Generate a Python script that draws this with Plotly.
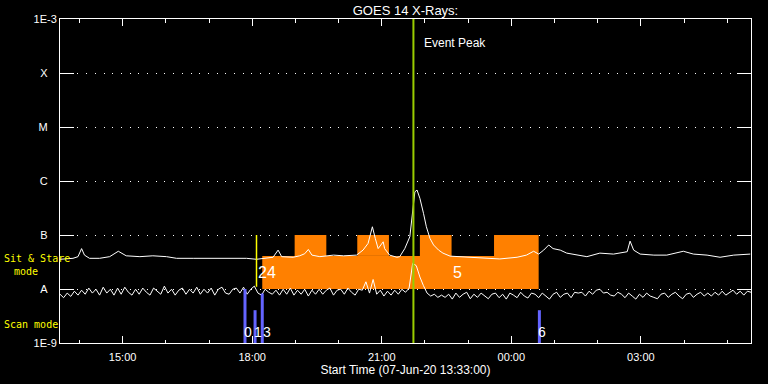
import math
import pandas as pd
import plotly.graph_objects as go

START = pd.Timestamp("2020-06-07 13:33:00")
END = pd.Timestamp("2020-06-08 05:33:00")

# ---- GOES long channel (1-8 A), minutes after start, flux in units of 1e-8 W/m^2
LONG_MIN = [0, 9, 18, 25, 30, 34, 41, 55, 69, 81, 92, 111, 129, 148, 162, 185, 208, 231, 259, 273,
            287, 296, 303, 308, 324, 333, 340, 345, 350, 361, 380, 394, 412, 421, 428, 434, 438, 442, 449, 451,
            458, 468, 472, 479, 486, 490, 493, 496, 500, 505, 509, 514, 519, 526, 532, 542, 565, 588, 611, 635,
            648, 658, 665, 672, 679, 685, 695, 704, 723, 732, 750, 769, 788, 792, 797, 806, 825, 843, 866, 880,
            899, 917, 936, 959]
LONG_E8 = [3.55, 3.68, 3.70, 3.97, 5.6, 4.24, 3.70, 3.70, 3.97, 5.0, 4.12, 3.97, 4.12, 3.97, 3.70, 3.70, 3.70, 3.70, 3.70, 3.55,
           3.70, 3.87, 5.25, 3.97, 3.87, 4.12, 4.5, 5.4, 4.24, 3.97, 4.24, 4.12, 4.24, 5.25, 6.98, 14.2, 8.65, 5.6, 7.48, 5.6,
           4.24, 3.87, 3.97, 5.6, 9.27, 29.0, 63.0, 68.0, 47.8, 25.2, 14.2, 8.65, 6.53, 5.25, 4.62, 4.06, 3.87, 3.70, 3.6, 3.87,
           4.24, 5.0, 4.43, 5.25, 6.53, 5.6, 5.25, 4.62, 4.24, 3.97, 4.62, 4.43, 4.9, 7.7, 5.25, 4.43, 4.24, 4.24, 5.0, 4.43,
           4.24, 3.87, 4.24, 4.43]

# ---- GOES short channel (0.5-4 A), every 5 minutes, flux in units of 1e-9 W/m^2
SHORT_MIN = list(range(0, 961, 5))
SHORT_E9 = [8.0, 6.9, 8.4, 7.3, 9.1, 7.7, 9.5, 8.0, 10.4, 8.4, 9.9, 7.7,
            10.8, 8.4, 9.9, 7.7, 10.4, 8.0, 10.8, 8.7, 7.7, 9.9, 8.0, 10.4,
            8.7, 7.7, 10.4, 9.1, 8.0, 11.3, 8.4, 9.9, 7.7, 9.5, 10.4, 8.0,
            9.9, 8.4, 10.8, 8.0, 9.9, 8.4, 10.4, 7.7, 9.9, 10.8, 8.4, 8.0,
            9.9, 10.4, 8.4, 10.8, 8.0, 9.9, 11.3, 8.4, 7.7, 9.9, 8.7, 8.0,
            9.5, 7.7, 9.9, 8.0, 10.4, 7.7, 9.5, 8.0, 9.9, 7.4, 9.5, 8.0,
            9.9, 8.0, 9.5, 10.4, 7.7, 9.5, 9.9, 8.0, 10.4, 8.7, 7.7, 9.9,
            9.5, 13.6, 8.4, 15.0, 8.0, 9.5, 7.4, 9.1, 7.7, 9.5, 8.0, 9.9,
            8.7, 10.4, 30.0, 27.0, 16.7, 11.5, 8.4, 7.4, 8.0, 7.0, 7.7, 7.0,
            8.0, 6.5, 8.4, 7.0, 8.0, 8.7, 6.6, 8.0, 7.0, 8.4, 7.4, 6.6,
            8.0, 8.4, 6.9, 8.0, 6.5, 8.4, 7.7, 6.9, 8.7, 7.4, 6.8, 8.4,
            8.0, 6.9, 8.4, 7.4, 6.5, 8.0, 8.7, 7.0, 8.0, 8.4, 6.9, 8.7,
            8.4, 8.7, 7.4, 9.1, 8.0, 9.5, 9.9, 8.4, 8.7, 7.7, 7.4, 8.7,
            8.0, 6.9, 8.4, 7.4, 6.5, 8.0, 7.0, 8.4, 7.4, 7.0, 6.6, 8.0,
            8.4, 7.0, 8.0, 8.7, 7.4, 6.6, 8.0, 8.4, 7.0, 8.0, 8.7, 7.4,
            8.4, 7.4, 8.7, 7.7, 9.1, 7.7, 8.7, 9.5, 8.0, 9.1, 7.7, 9.1,
            8.7]

# ---- Sit & Stare coverage (minutes after start)
SS_BASE = [281, 665]            # lower band
SS_BASE_FLUX = [1e-8, 4.1e-8]
SS_BLOCK_START = [326, 413, 500, 603]
SS_BLOCK_END = [370, 457, 544, 665]
SS_BLOCK_FLUX = [4.1e-8, 1e-7]
SS_LINE_MIN = 273
SS_LINE_FLUX = [1.1e-8, 1e-7]
SS_LABELS = ["24", "5"]
SS_LABEL_MIN = [273, 544]

# ---- Scan mode observations
SCAN_MIN = [257, 271, 281, 666]
SCAN_TOP = [1.0e-8, 4.05e-9, 8.26e-9, 4.05e-9]
SCAN_LABELS = ["0", "1", "3", "6"]
SCAN_FLOOR = 1e-9

EVENT_PEAK_MIN = 491

# y-axis tick values and labels
Y_TICKS = [1e-9, 1e-8, 1e-7, 1e-6, 1e-5, 1e-4, 1e-3]
Y_TEXT = ["1E-9", "A", "B", "C", "M", "X", "1E-3"]

NB = "\u00a0"


def t(m):
    return START + pd.Timedelta(minutes=m)


ORANGE = "#ff8000"
SCAN_C = "#6464ff"
FONT = "Liberation Sans, Arial, sans-serif"

fig = go.Figure()

# orange sit & stare areas
fig.add_trace(go.Scatter(
    x=[t(SS_BASE[0]), t(SS_BASE[1]), t(SS_BASE[1]), t(SS_BASE[0]), t(SS_BASE[0])],
    y=[SS_BASE_FLUX[0], SS_BASE_FLUX[0], SS_BASE_FLUX[1], SS_BASE_FLUX[1], SS_BASE_FLUX[0]],
    fill="toself", fillcolor=ORANGE, mode="lines", line=dict(width=0, color=ORANGE),
    hoverinfo="skip"))
for s, e in zip(SS_BLOCK_START, SS_BLOCK_END):
    fig.add_trace(go.Scatter(
        x=[t(s), t(e), t(e), t(s), t(s)],
        y=[SS_BLOCK_FLUX[0], SS_BLOCK_FLUX[0], SS_BLOCK_FLUX[1], SS_BLOCK_FLUX[1], SS_BLOCK_FLUX[0]],
        fill="toself", fillcolor=ORANGE, mode="lines", line=dict(width=0, color=ORANGE),
        hoverinfo="skip"))

# GOES curves
fig.add_trace(go.Scatter(x=[t(m) for m in LONG_MIN], y=[v * 1e-8 for v in LONG_E8],
                         mode="lines", line=dict(color="white", width=1), name="1-8 A"))
fig.add_trace(go.Scatter(x=[t(m) for m in SHORT_MIN], y=[v * 1e-9 for v in SHORT_E9],
                         mode="lines", line=dict(color="white", width=1), name="0.5-4 A"))

# scan-mode bars
for m, top in zip(SCAN_MIN, SCAN_TOP):
    fig.add_trace(go.Scatter(x=[t(m), t(m)], y=[SCAN_FLOOR, top], mode="lines",
                             line=dict(color=SCAN_C, width=3), hoverinfo="skip"))

# sit & stare marker line
fig.add_trace(go.Scatter(x=[t(SS_LINE_MIN), t(SS_LINE_MIN)], y=SS_LINE_FLUX, mode="lines",
                         line=dict(color="#ffff00", width=1.5), hoverinfo="skip"))

# event peak line
fig.add_trace(go.Scatter(x=[t(EVENT_PEAK_MIN), t(EVENT_PEAK_MIN)], y=[1e-9, 1e-3], mode="lines",
                         line=dict(color="#99cc00", width=2), hoverinfo="skip"))

annotations = []
scan_shift = [-2, -2, 0, -2]
for lab, m, sh in zip(SCAN_LABELS, SCAN_MIN, scan_shift):
    annotations.append(dict(x=t(m), xref="x", y=0.033, yref="paper", text=lab, showarrow=False,
                            xanchor="left", yanchor="middle", xshift=sh, borderpad=0,
                            font=dict(color="white", size=14, family=FONT)))
for lab, m in zip(SS_LABELS, SS_LABEL_MIN):
    annotations.append(dict(x=t(m), xref="x", y=0.219, yref="paper", text=lab, showarrow=False,
                            xanchor="left", yanchor="middle", xshift=-1,
                            font=dict(color="white", size=16, family=FONT)))
annotations.append(dict(x=t(EVENT_PEAK_MIN), xref="x", y=0.926, yref="paper", text="Event Peak",
                        showarrow=False, xanchor="left", yanchor="middle", xshift=9,
                        font=dict(color="white", size=12, family=FONT)))
MONO = "DejaVu Sans Mono, monospace"
annotations.append(dict(x=-0.0845, xref="paper", y=0.262, yref="paper", text="Sit & Stare",
                        showarrow=False, xanchor="left", yanchor="middle",
                        font=dict(color="#ffff00", size=10, family=MONO)))
annotations.append(dict(x=-0.0695, xref="paper", y=0.222, yref="paper", text="mode",
                        showarrow=False, xanchor="left", yanchor="middle",
                        font=dict(color="#ffff00", size=10, family=MONO)))
annotations.append(dict(x=-0.0845, xref="paper", y=0.058, yref="paper", text="Scan mode",
                        showarrow=False, xanchor="left", yanchor="middle",
                        font=dict(color="#ffff00", size=10, family=MONO)))

ytext = [s if s.startswith("1E") else s + NB * 3 for s in Y_TEXT]

fig.update_layout(
    width=768, height=384,
    margin=dict(l=60, r=17, t=19, b=41, autoexpand=False),
    paper_bgcolor="black", plot_bgcolor="black",
    showlegend=False,
    font=dict(family=FONT, color="white", size=11),
    title=dict(text="GOES 14 X-Rays:", x=0.5, xref="paper", xanchor="center",
               y=1 - 10 / 384, yref="container", yanchor="middle",
               font=dict(size=13, color="white", family=FONT)),
    annotations=annotations,
    xaxis=dict(
        type="date", range=[START, END], automargin=False,
        tick0="2020-06-07 15:00:00", dtick=3 * 3600000, tickformat="%H:%M",
        ticks="inside", ticklen=7, tickcolor="white", tickwidth=1,
        showline=True, linecolor="white", linewidth=1, mirror="ticks",
        showgrid=False, zeroline=False,
        tickfont=dict(size=11, color="white", family=FONT),
        ticklabelstandoff=4,
        minor=dict(dtick=3600000, tick0="2020-06-07 15:00:00", ticks="inside",
                   ticklen=3.5, tickcolor="white", showgrid=False),
        title=dict(text="Start Time (07-Jun-20 13:33:00)", standoff=3,
                   font=dict(size=12, color="white", family=FONT)),
    ),
    yaxis=dict(
        type="log", range=[-9, -3], automargin=False,
        tickvals=Y_TICKS, ticktext=ytext,
        ticks="inside", ticklen=14, tickcolor="white", tickwidth=1,
        showline=True, linecolor="white", linewidth=1, mirror="ticks",
        showgrid=True, gridcolor="white", gridwidth=1, griddash="1px,7.7px",
        zeroline=False,
        tickfont=dict(size=11, color="white", family=FONT),
    ),
)

fig.write_html("out.html")
